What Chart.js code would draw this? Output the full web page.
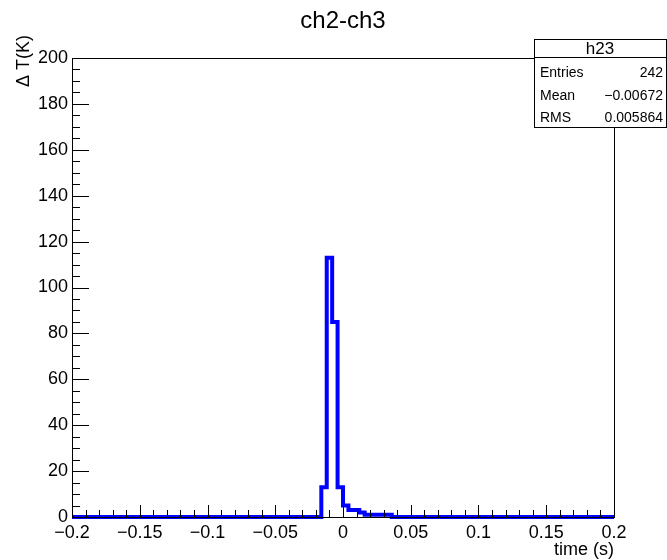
<!DOCTYPE html>
<html>
<head>
<meta charset="utf-8">
<script src="https://cdn.jsdelivr.net/npm/chart.js@4/dist/chart.umd.min.js"></script>
<style>
  html, body { margin: 0; padding: 0; background: #ffffff; }
  #wrap { width: 667px; height: 560px; position: relative; }
</style>
</head>
<body>
<div id="wrap"><canvas id="c" width="667" height="560"></canvas></div>
<script>
// ---- data ----
const histName = 'h23';
const chartTitle = 'ch2-ch3';
const xTitle = 'time (s)';
const yTitle = '\u0394 T(K)';
const xMin = -0.2, xMax = 0.2, binWidth = 0.004;
const yMin = 0, yMax = 200;
const xMajorStep = 0.05, xMinorStep = 0.01;
const yMajorStep = 20, yMinorStep = 5;
const counts = [
  0, 0, 0, 0, 0, 0, 0, 0, 0, 0,
  0, 0, 0, 0, 0, 0, 0, 0, 0, 0,
  0, 0, 0, 0, 0, 0, 0, 0, 0, 0,
  0, 0, 0, 0, 0, 0, 0, 0, 0, 0,
  0, 0, 0, 0, 0, 0, 13, 113, 85, 13,
  5, 3, 3, 2, 1, 1, 1, 1, 1, 0,
  0, 0, 0, 0, 0, 0, 0, 0, 0, 0,
  0, 0, 0, 0, 0, 0, 0, 0, 0, 0,
  0, 0, 0, 0, 0, 0, 0, 0, 0, 0,
  0, 0, 0, 0, 0, 0, 0, 0, 0, 0
];
const statLabels = ['Entries', 'Mean', 'RMS'];
const statValues = ['242', '\u22120.00672', '0.005864'];

// ---- build step outline from bins ----
const outline = [];
counts.forEach((c, i) => {
  const lo = xMin + i * binWidth;
  outline.push({ x: lo, y: c });
  outline.push({ x: lo + binWidth, y: c });
});

const FONT = '"Liberation Sans", Arial, Helvetica, sans-serif';
const fmt = (v) => {
  const r = Math.round(v * 1000) / 1000;
  if (Math.abs(r) < 1e-9) return '0';
  return r < 0 ? '\u2212' + String(Math.abs(r)) : String(r);
};

const rootDecor = {
  id: 'rootDecor',
  afterDraw(chart) {
    const ctx = chart.ctx;
    const a = chart.chartArea;
    const xs = chart.scales.x, ys = chart.scales.y;
    ctx.save();
    ctx.strokeStyle = '#000';
    ctx.lineWidth = 1;
    // frame
    ctx.strokeRect(Math.round(a.left) + 0.5, Math.round(a.top) + 0.5,
                   Math.round(a.right - a.left), Math.round(a.bottom - a.top));
    // x ticks
    ctx.beginPath();
    const nx = Math.round((xMax - xMin) / xMinorStep);
    for (let i = 0; i <= nx; i++) {
      const v = xMin + i * xMinorStep;
      const q = (v - xMin) / xMajorStep;
      const major = Math.abs(q - Math.round(q)) < 1e-6;
      const px = Math.round(xs.getPixelForValue(v)) + 0.5;
      const len = major ? 12 : 7;
      ctx.moveTo(px, a.bottom);
      ctx.lineTo(px, a.bottom - len);
    }
    // y ticks
    const ny = Math.round((yMax - yMin) / yMinorStep);
    for (let i = 0; i <= ny; i++) {
      const v = yMin + i * yMinorStep;
      const major = (v % yMajorStep) === 0;
      const py = Math.round(ys.getPixelForValue(v)) + 0.5;
      const len = major ? 17 : 8;
      ctx.moveTo(a.left, py);
      ctx.lineTo(a.left + len, py);
    }
    ctx.stroke();

    // title
    ctx.fillStyle = '#000';
    ctx.font = '24px ' + FONT;
    ctx.textAlign = 'center';
    ctx.textBaseline = 'alphabetic';
    ctx.fillText(chartTitle, (a.left + a.right) / 2, 28);

    // x title
    ctx.font = '18px ' + FONT;
    ctx.textAlign = 'right';
    ctx.fillText(xTitle, a.right, 555);

    // y title
    ctx.save();
    ctx.translate(29, 35);
    ctx.rotate(-Math.PI / 2);
    ctx.textAlign = 'right';
    ctx.fillText(yTitle, 0, 0);
    ctx.restore();

    // stats box
    const bx = 534, by = 39, bw = 132, bh = 88;
    ctx.fillStyle = '#fff';
    ctx.fillRect(bx, by, bw, bh);
    ctx.strokeStyle = '#000';
    ctx.strokeRect(bx + 0.5, by + 0.5, bw, bh);
    ctx.beginPath();
    ctx.moveTo(bx, by + 18.5);
    ctx.lineTo(bx + bw, by + 18.5);
    ctx.stroke();
    ctx.fillStyle = '#000';
    ctx.font = '17px ' + FONT;
    ctx.textAlign = 'center';
    ctx.fillText(histName, bx + bw / 2, by + 15);
    ctx.font = '14px ' + FONT;
    statLabels.forEach((lab, i) => {
      const yy = by + 38 + i * 22.5;
      ctx.textAlign = 'left';
      ctx.fillText(lab, bx + 6, yy);
      ctx.textAlign = 'right';
      ctx.fillText(statValues[i], bx + bw - 3, yy);
    });
    ctx.restore();
  }
};

new Chart(document.getElementById('c'), {
  type: 'line',
  data: {
    datasets: [{
      data: outline,
      borderColor: '#0000ff',
      borderWidth: 4,
      pointRadius: 0,
      fill: false,
      tension: 0,
      clip: false,
      borderJoinStyle: 'miter'
    }]
  },
  options: {
    responsive: false,
    animation: false,
    devicePixelRatio: 1,
    layout: { padding: { top: 58, right: 53, left: 0, bottom: 0 } },
    plugins: { legend: { display: false }, tooltip: { enabled: false }, title: { display: false } },
    scales: {
      x: {
        type: 'linear', min: xMin, max: xMax,
        grid: { display: false, drawTicks: false },
        border: { display: false },
        ticks: { stepSize: xMajorStep, padding: 5, color: '#000', font: { family: FONT, size: 18 },
                 maxRotation: 0, autoSkip: false, callback: (v) => fmt(v) },
        afterFit: (s) => { s.height = 43; }
      },
      y: {
        type: 'linear', min: yMin, max: yMax,
        grid: { display: false, drawTicks: false },
        border: { display: false },
        ticks: { stepSize: yMajorStep, padding: 4, color: '#000', font: { family: FONT, size: 18 },
                 callback: (v) => fmt(v) },
        afterFit: (s) => { s.width = 72; }
      }
    }
  },
  plugins: [rootDecor]
});
</script>
</body>
</html>
